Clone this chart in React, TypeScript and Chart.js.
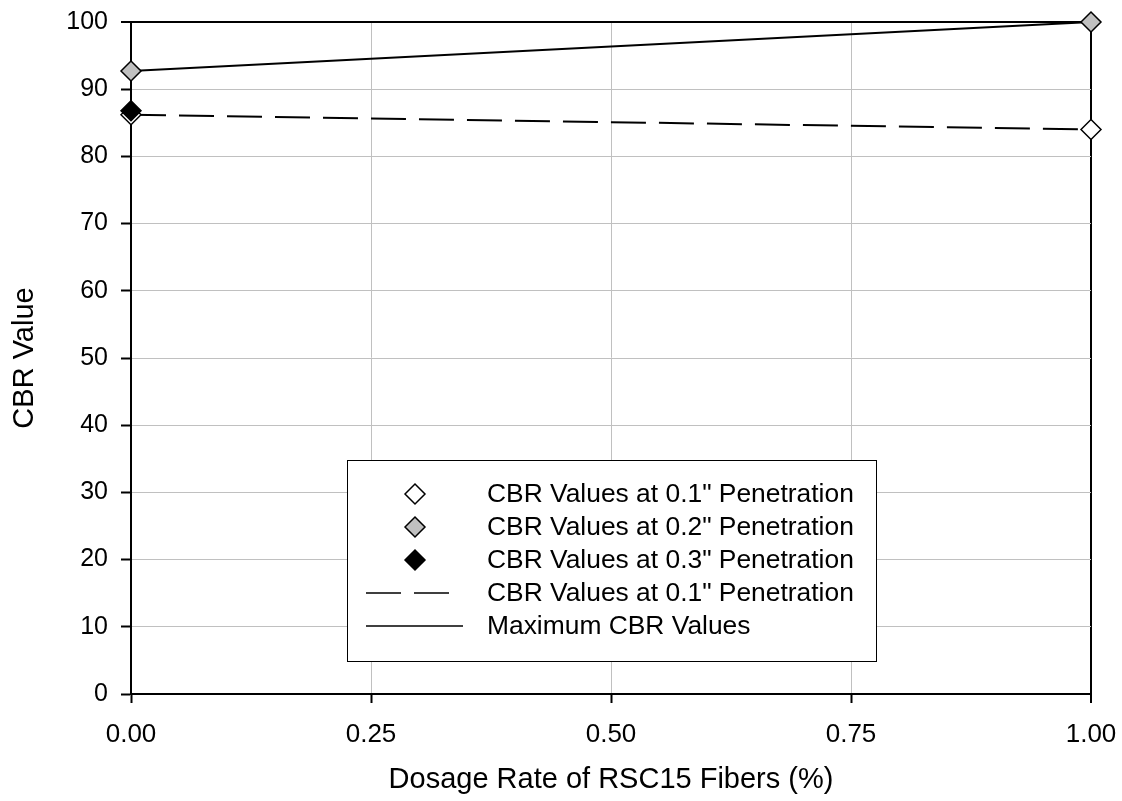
import React, { useEffect, useRef } from "react";
import { Chart, registerables } from "chart.js";

Chart.register(...registerables);

// ---- Data ----
const dosage = [0, 1];
const cbrAt01 = [86.2, 84.0];
const cbrAt02 = [92.7, 100];
const cbrAt03 = [86.8, null];
const trendAt01 = [86.2, 84.0];
const maxCbr = [92.7, 100];

const xTicks = [0, 0.25, 0.5, 0.75, 1];
const yMin = 0;
const yMax = 100;
const yStep = 10;

const legendLabels = [
  'CBR Values at 0.1" Penetration',
  'CBR Values at 0.2" Penetration',
  'CBR Values at 0.3" Penetration',
  'CBR Values at 0.1" Penetration',
  "Maximum CBR Values",
];

const xTitle = "Dosage Rate of RSC15 Fibers (%)";
const yTitle = "CBR Value";

const FONT = "'Liberation Sans', Arial, Helvetica, sans-serif";

const toPoints = (ys: (number | null)[]) =>
  dosage.map((x, i) => ({ x, y: ys[i] as number }));

type LegendKind = { kind: "point"; fill: string } | { kind: "line"; dash: number[] };

const legendKinds: LegendKind[] = [
  { kind: "point", fill: "#ffffff" },
  { kind: "point", fill: "#c0c0c0" },
  { kind: "point", fill: "#000000" },
  { kind: "line", dash: [35, 13] },
  { kind: "line", dash: [] },
];

const boxLegend = {
  id: "boxLegend",
  afterDatasetsDraw(chart: any) {
    const ctx: CanvasRenderingContext2D = chart.ctx;
    const { left, top } = chart.chartArea;
    const bx = left + 216;
    const by = top + 438;
    const bw = 529;
    const bh = 201;
    ctx.save();
    ctx.fillStyle = "#ffffff";
    ctx.fillRect(bx, by, bw, bh);
    ctx.strokeStyle = "#000000";
    ctx.lineWidth = 1;
    ctx.strokeRect(bx + 0.5, by + 0.5, bw, bh);
    ctx.font = `26.4px ${FONT}`;
    ctx.textBaseline = "middle";
    ctx.textAlign = "left";
    legendLabels.forEach((label, i) => {
      const cy = by + 34 + i * 33;
      const k = legendKinds[i];
      if (k.kind === "point") {
        const cx = bx + 68;
        const r = 10;
        ctx.beginPath();
        ctx.moveTo(cx - r, cy);
        ctx.lineTo(cx, cy - r);
        ctx.lineTo(cx + r, cy);
        ctx.lineTo(cx, cy + r);
        ctx.closePath();
        ctx.fillStyle = k.fill;
        ctx.fill();
        ctx.lineWidth = 1.5;
        ctx.strokeStyle = "#000000";
        ctx.setLineDash([]);
        ctx.stroke();
      } else {
        ctx.beginPath();
        ctx.setLineDash(k.dash);
        ctx.lineWidth = 1.5;
        ctx.strokeStyle = "#000000";
        const x0 = bx + 19;
        const x1 = k.dash.length ? bx + 102 : bx + 116;
        ctx.moveTo(x0, cy);
        ctx.lineTo(x1, cy);
        ctx.stroke();
        ctx.setLineDash([]);
      }
      ctx.fillStyle = "#000000";
      ctx.fillText(label, bx + 140, cy + 1);
    });
    ctx.restore();
  },
};

export default function App() {
  const ref = useRef<HTMLCanvasElement | null>(null);

  useEffect(() => {
    if (!ref.current) return;
    const gray = "#c0c0c0";
    const chart = new Chart(ref.current, {
      type: "scatter",
      data: {
        datasets: [
          {
            label: legendLabels[0],
            data: toPoints(cbrAt01),
            pointStyle: "rectRot",
            pointRadius: 10,
            pointBackgroundColor: "#ffffff",
            pointBorderColor: "#000000",
            pointBorderWidth: 1.5,
            showLine: false,
            order: 3,
            clip: false,
          },
          {
            label: legendLabels[1],
            data: toPoints(cbrAt02),
            pointStyle: "rectRot",
            pointRadius: 10,
            pointBackgroundColor: "#c0c0c0",
            pointBorderColor: "#000000",
            pointBorderWidth: 1.5,
            showLine: false,
            order: 1,
            clip: false,
          },
          {
            label: legendLabels[2],
            data: toPoints(cbrAt03),
            pointStyle: "rectRot",
            pointRadius: 10,
            pointBackgroundColor: "#000000",
            pointBorderColor: "#000000",
            pointBorderWidth: 1.5,
            showLine: false,
            order: 2,
            clip: false,
          },
          {
            label: legendLabels[3],
            data: toPoints(trendAt01),
            showLine: true,
            pointRadius: 0,
            borderColor: "#000000",
            borderWidth: 2,
            borderDash: [35, 13],
            order: 4,
            clip: false,
          },
          {
            label: legendLabels[4],
            data: toPoints(maxCbr),
            showLine: true,
            pointRadius: 0,
            borderColor: "#000000",
            borderWidth: 2,
            order: 5,
            clip: false,
          },
        ],
      },
      options: {
        responsive: false,
        animation: false,
        layout: { padding: { left: 0, top: 22, right: 31, bottom: 0 } },
        plugins: {
          legend: { display: false },
          tooltip: { enabled: false },
        },
        scales: {
          x: {
            type: "linear",
            min: 0,
            max: 1,
            afterBuildTicks: (scale: any) => {
              scale.ticks = xTicks.map((v) => ({ value: v }));
            },
            afterFit: (scale: any) => {
              scale.height = 107;
              scale.paddingLeft = 0;
              scale.paddingRight = 0;
            },
            ticks: {
              color: "#000000",
              font: { family: FONT, size: 26 },
              padding: 16,
              maxRotation: 0,
              callback: (v: any) => Number(v).toFixed(2),
            },
            grid: {
              color: (c: any) => (c.tick && c.tick.value === 1 ? "#000000" : gray),
              lineWidth: (c: any) => (c.tick && c.tick.value === 1 ? 2 : 1),
              tickColor: "#000000",
              tickWidth: 2,
              tickLength: 9,
            },
            border: { display: true, color: "#000000", width: 2 },
            title: {
              display: true,
              text: xTitle,
              color: "#000000",
              font: { family: FONT, size: 29 },
              padding: 4,
            },
          },
          y: {
            type: "linear",
            min: yMin,
            max: yMax,
            ticks: {
              stepSize: yStep,
              color: "#000000",
              font: { family: FONT, size: 25 },
              padding: 13,
            },
            afterFit: (scale: any) => {
              scale.width = 131;
              scale.paddingTop = 0;
              scale.paddingBottom = 0;
            },
            grid: {
              color: (c: any) => (c.tick && c.tick.value === yMax ? "#000000" : gray),
              lineWidth: (c: any) => (c.tick && c.tick.value === yMax ? 2 : 1),
              tickColor: "#000000",
              tickWidth: 2,
              tickLength: 10,
            },
            border: { display: true, color: "#000000", width: 2 },
            title: {
              display: true,
              text: yTitle,
              color: "#000000",
              font: { family: FONT, size: 29 },
              padding: 8,
            },
          },
        },
      },
      plugins: [boxLegend],
    });
    return () => chart.destroy();
  }, []);

  return (
    <div style={{ position: "fixed", left: 0, top: 0, width: 1122, height: 801, background: "#ffffff" }}>
      <canvas ref={ref} width={1122} height={801} style={{ display: "block" }} />
    </div>
  );
}
